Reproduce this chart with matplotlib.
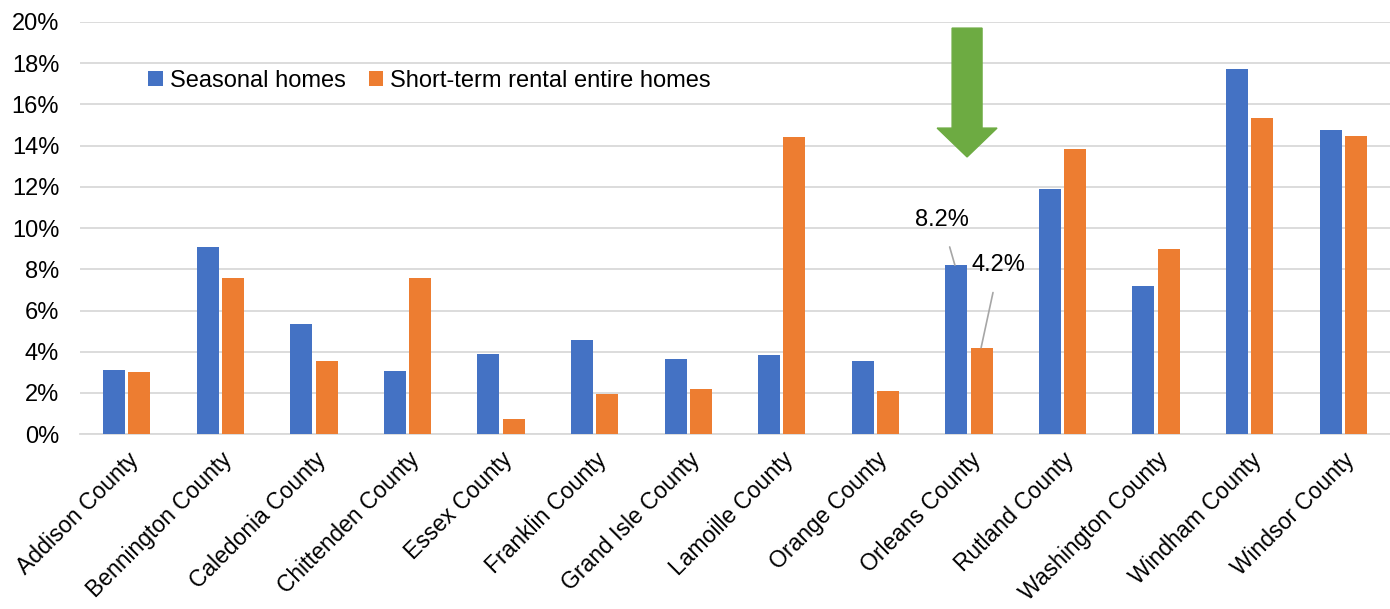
import numpy as np
import matplotlib
matplotlib.use('Agg')
import matplotlib.pyplot as plt
from matplotlib.patches import FancyArrow

plt.rcParams['font.family'] = ['Liberation Sans', 'DejaVu Sans']

counties = ['Addison County', 'Bennington County', 'Caledonia County', 'Chittenden County',
            'Essex County', 'Franklin County', 'Grand Isle County', 'Lamoille County',
            'Orange County', 'Orleans County', 'Rutland County', 'Washington County',
            'Windham County', 'Windsor County']
seasonal = [3.1, 9.1, 5.35, 3.05, 3.9, 4.55, 3.65, 3.85, 3.55, 8.2, 11.9, 7.2, 17.7, 14.75]
short_term = [3.0, 7.6, 3.55, 7.6, 0.75, 1.95, 2.2, 14.4, 2.1, 4.2, 13.85, 9.0, 15.35, 14.45]
yticks = [0, 2, 4, 6, 8, 10, 12, 14, 16, 18, 20]

blue = '#4472C4'
orange = '#ED7D31'
fs = 17

fig = plt.figure(figsize=(13.9, 6.09), dpi=100)
ax = fig.add_axes([0.0576, 0.287, 0.9424, 0.677])

x = np.arange(len(counties))
w = 0.235
ax.bar(x - 0.135, seasonal, w, color=blue, label='Seasonal homes', zorder=3)
ax.bar(x + 0.135, short_term, w, color=orange, label='Short-term rental entire homes', zorder=3)

ax.set_xlim(-0.5, len(counties) - 0.5)
ax.set_ylim(0, 20)
ax.set_yticks(yticks)
ax.set_yticklabels([f'{t}%' for t in yticks], fontsize=fs)
ax.yaxis.grid(True, color='#D9D9D9', linewidth=1.3, zorder=0)
ax.set_axisbelow(True)
for s in ['left', 'right', 'top']:
    ax.spines[s].set_visible(False)
ax.spines['bottom'].set_color('#D9D9D9')
ax.spines['bottom'].set_linewidth(1.3)
ax.tick_params(axis='y', length=0, pad=15)
ax.tick_params(axis='x', length=0, pad=10)
ax.set_xticks(x)
ax.set_xticklabels(counties, rotation=45, ha='right', rotation_mode='anchor', fontsize=16.5)
for lab in ax.get_xticklabels():
    lab.set_x(lab.get_position()[0])

# Orleans callouts
i = counties.index('Orleans County')
ax.annotate('8.2%', xy=(i - 0.15, seasonal[i]), xytext=(i - 0.29, 10.4),
            ha='center', va='center', fontsize=fs,
            arrowprops=dict(arrowstyle='-', color='#A6A6A6', lw=1.2, shrinkA=10, shrinkB=0))
ax.annotate('4.2%', xy=(i + 0.13, short_term[i]), xytext=(i + 0.32, 8.2),
            ha='center', va='center', fontsize=fs,
            arrowprops=dict(arrowstyle='-', color='#A6A6A6', lw=1.2, shrinkA=10, shrinkB=0))

# green arrow pointing down at Orleans
arr = FancyArrow(i - 0.02, 19.7, 0, -6.25, width=0.32, head_width=0.64, head_length=1.4,
                 length_includes_head=True, color='#6DAB42', zorder=4)
ax.add_patch(arr)

ax.legend(loc='upper left', bbox_to_anchor=(0.036, 0.935), ncol=2, frameon=False,
          fontsize=fs, handlelength=0.6, handleheight=0.6, handletextpad=0.3,
          columnspacing=1.0)

fig.savefig('out.png', dpi=100)
